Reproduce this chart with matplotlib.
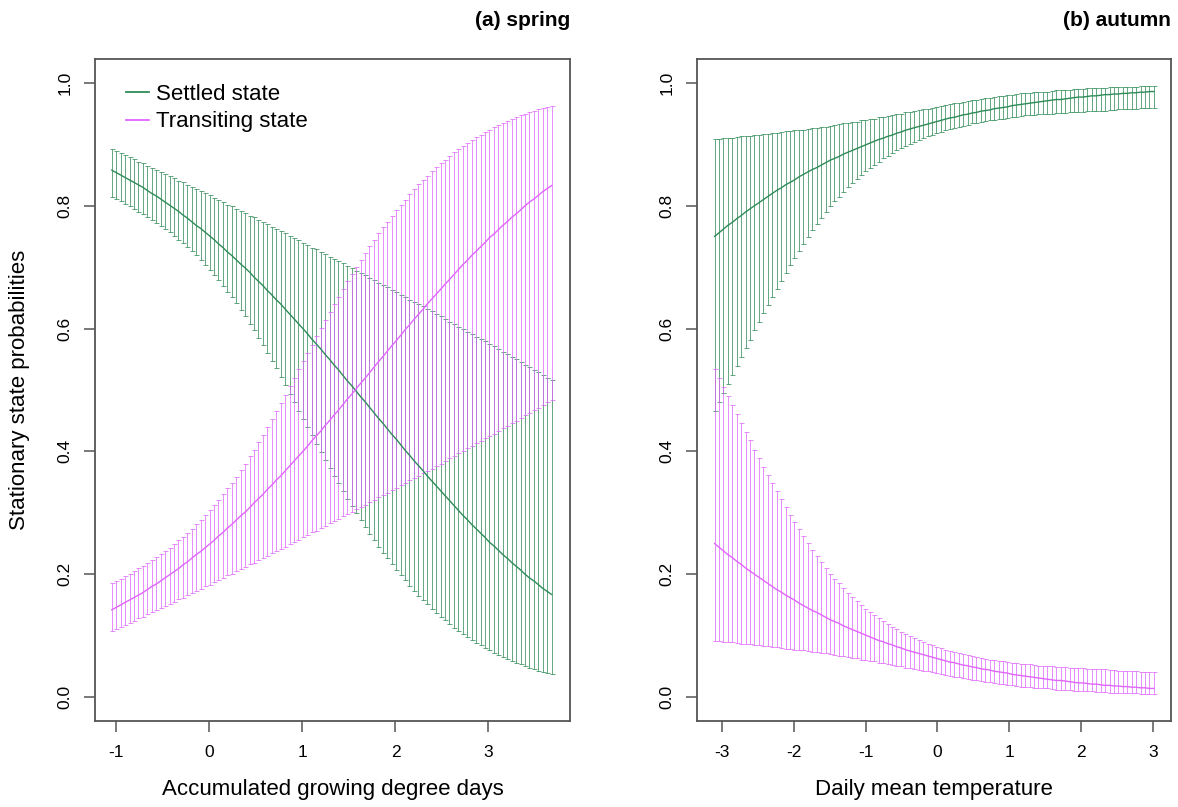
import numpy as np
import matplotlib
matplotlib.use('Agg')
import matplotlib.pyplot as plt
from matplotlib.lines import Line2D

plt.rcParams['font.family'] = ['Liberation Sans', 'DejaVu Sans']
plt.rcParams['axes.unicode_minus'] = False

# ---- (a) spring : covariate grid and stationary state probabilities ----
spring_x = [-1.050, -1.002, -0.954, -0.907, -0.859, -0.811, -0.763, -0.716, -0.668, -0.620,
            -0.572, -0.524, -0.477, -0.429, -0.381, -0.333, -0.286, -0.238, -0.190, -0.142,
            -0.094, -0.047, 0.001, 0.049, 0.097, 0.145, 0.192, 0.240, 0.288, 0.336,
            0.383, 0.431, 0.479, 0.527, 0.575, 0.622, 0.670, 0.718, 0.766, 0.813,
            0.861, 0.909, 0.957, 1.005, 1.052, 1.100, 1.148, 1.196, 1.243, 1.291,
            1.339, 1.387, 1.434, 1.482, 1.530, 1.578, 1.626, 1.673, 1.721, 1.769,
            1.817, 1.864, 1.912, 1.960, 2.008, 2.056, 2.103, 2.151, 2.199, 2.247,
            2.294, 2.342, 2.390, 2.438, 2.486, 2.533, 2.581, 2.629, 2.677, 2.724,
            2.772, 2.820, 2.868, 2.915, 2.963, 3.011, 3.059, 3.107, 3.154, 3.202,
            3.250, 3.298, 3.345, 3.393, 3.441, 3.489, 3.537, 3.584, 3.632, 3.680]

spring_settled = [0.858, 0.854, 0.850, 0.846, 0.842, 0.838, 0.834, 0.830, 0.825, 0.820,
                  0.816, 0.811, 0.806, 0.801, 0.796, 0.791, 0.785, 0.780, 0.774, 0.768,
                  0.763, 0.757, 0.751, 0.745, 0.738, 0.732, 0.725, 0.719, 0.712, 0.705,
                  0.699, 0.692, 0.684, 0.677, 0.670, 0.662, 0.655, 0.647, 0.640, 0.632,
                  0.624, 0.616, 0.608, 0.600, 0.592, 0.583, 0.575, 0.567, 0.558, 0.550,
                  0.541, 0.533, 0.524, 0.515, 0.507, 0.498, 0.489, 0.481, 0.472, 0.463,
                  0.454, 0.446, 0.437, 0.428, 0.420, 0.411, 0.402, 0.394, 0.385, 0.377,
                  0.369, 0.360, 0.352, 0.344, 0.336, 0.328, 0.320, 0.312, 0.304, 0.296,
                  0.289, 0.281, 0.274, 0.267, 0.260, 0.252, 0.246, 0.239, 0.232, 0.226,
                  0.219, 0.213, 0.207, 0.200, 0.194, 0.189, 0.183, 0.177, 0.172, 0.167]
spring_settled_lo = [0.815, 0.811, 0.807, 0.803, 0.799, 0.794, 0.790, 0.786, 0.781, 0.777,
                     0.772, 0.767, 0.762, 0.757, 0.751, 0.745, 0.739, 0.733, 0.726, 0.719,
                     0.711, 0.704, 0.696, 0.687, 0.679, 0.670, 0.660, 0.651, 0.641, 0.630,
                     0.620, 0.608, 0.597, 0.585, 0.573, 0.561, 0.548, 0.535, 0.521, 0.508,
                     0.494, 0.480, 0.466, 0.453, 0.439, 0.426, 0.412, 0.399, 0.386, 0.373,
                     0.360, 0.348, 0.335, 0.323, 0.311, 0.300, 0.288, 0.277, 0.266, 0.256,
                     0.245, 0.235, 0.226, 0.216, 0.207, 0.198, 0.190, 0.181, 0.173, 0.165,
                     0.158, 0.151, 0.144, 0.137, 0.131, 0.125, 0.119, 0.113, 0.108, 0.103,
                     0.098, 0.093, 0.088, 0.084, 0.080, 0.076, 0.072, 0.069, 0.065, 0.062,
                     0.059, 0.056, 0.053, 0.050, 0.048, 0.045, 0.043, 0.041, 0.039, 0.037]
spring_settled_hi = [0.892, 0.889, 0.886, 0.882, 0.879, 0.876, 0.872, 0.869, 0.865, 0.862,
                     0.859, 0.855, 0.852, 0.848, 0.845, 0.841, 0.838, 0.834, 0.831, 0.827,
                     0.824, 0.820, 0.817, 0.813, 0.809, 0.806, 0.802, 0.799, 0.795, 0.791,
                     0.788, 0.784, 0.781, 0.777, 0.773, 0.770, 0.766, 0.762, 0.759, 0.755,
                     0.751, 0.747, 0.744, 0.740, 0.736, 0.732, 0.729, 0.725, 0.721, 0.717,
                     0.714, 0.710, 0.706, 0.702, 0.698, 0.694, 0.691, 0.687, 0.683, 0.679,
                     0.675, 0.671, 0.667, 0.663, 0.659, 0.655, 0.651, 0.647, 0.644, 0.640,
                     0.636, 0.632, 0.628, 0.624, 0.620, 0.616, 0.611, 0.607, 0.603, 0.599,
                     0.595, 0.591, 0.587, 0.583, 0.579, 0.575, 0.571, 0.566, 0.562, 0.558,
                     0.554, 0.550, 0.546, 0.541, 0.537, 0.533, 0.529, 0.525, 0.520, 0.516]

spring_transit = [0.142, 0.146, 0.150, 0.154, 0.158, 0.162, 0.166, 0.170, 0.175, 0.180,
                  0.184, 0.189, 0.194, 0.199, 0.204, 0.209, 0.215, 0.220, 0.226, 0.232,
                  0.237, 0.243, 0.249, 0.255, 0.262, 0.268, 0.275, 0.281, 0.288, 0.295,
                  0.301, 0.308, 0.316, 0.323, 0.330, 0.338, 0.345, 0.353, 0.360, 0.368,
                  0.376, 0.384, 0.392, 0.400, 0.408, 0.417, 0.425, 0.433, 0.442, 0.450,
                  0.459, 0.467, 0.476, 0.485, 0.493, 0.502, 0.511, 0.519, 0.528, 0.537,
                  0.546, 0.554, 0.563, 0.572, 0.580, 0.589, 0.598, 0.606, 0.615, 0.623,
                  0.631, 0.640, 0.648, 0.656, 0.664, 0.672, 0.680, 0.688, 0.696, 0.704,
                  0.711, 0.719, 0.726, 0.733, 0.740, 0.748, 0.754, 0.761, 0.768, 0.774,
                  0.781, 0.787, 0.793, 0.800, 0.806, 0.811, 0.817, 0.823, 0.828, 0.833]
spring_transit_lo = [0.108, 0.111, 0.114, 0.118, 0.121, 0.124, 0.128, 0.131, 0.135, 0.138,
                     0.141, 0.145, 0.148, 0.152, 0.155, 0.159, 0.162, 0.166, 0.169, 0.173,
                     0.176, 0.180, 0.183, 0.187, 0.191, 0.194, 0.198, 0.201, 0.205, 0.209,
                     0.212, 0.216, 0.219, 0.223, 0.227, 0.230, 0.234, 0.238, 0.241, 0.245,
                     0.249, 0.253, 0.256, 0.260, 0.264, 0.268, 0.271, 0.275, 0.279, 0.283,
                     0.286, 0.290, 0.294, 0.298, 0.302, 0.306, 0.309, 0.313, 0.317, 0.321,
                     0.325, 0.329, 0.333, 0.337, 0.341, 0.345, 0.349, 0.353, 0.356, 0.360,
                     0.364, 0.368, 0.372, 0.376, 0.380, 0.384, 0.389, 0.393, 0.397, 0.401,
                     0.405, 0.409, 0.413, 0.417, 0.421, 0.425, 0.429, 0.434, 0.438, 0.442,
                     0.446, 0.450, 0.454, 0.459, 0.463, 0.467, 0.471, 0.475, 0.480, 0.484]
spring_transit_hi = [0.185, 0.189, 0.193, 0.197, 0.201, 0.206, 0.210, 0.214, 0.219, 0.223,
                     0.228, 0.233, 0.238, 0.243, 0.249, 0.255, 0.261, 0.267, 0.274, 0.281,
                     0.289, 0.296, 0.304, 0.313, 0.321, 0.330, 0.340, 0.349, 0.359, 0.370,
                     0.380, 0.392, 0.403, 0.415, 0.427, 0.439, 0.452, 0.465, 0.479, 0.492,
                     0.506, 0.520, 0.534, 0.547, 0.561, 0.574, 0.588, 0.601, 0.614, 0.627,
                     0.640, 0.652, 0.665, 0.677, 0.689, 0.700, 0.712, 0.723, 0.734, 0.744,
                     0.755, 0.765, 0.774, 0.784, 0.793, 0.802, 0.810, 0.819, 0.827, 0.835,
                     0.842, 0.849, 0.856, 0.863, 0.869, 0.875, 0.881, 0.887, 0.892, 0.897,
                     0.902, 0.907, 0.912, 0.916, 0.920, 0.924, 0.928, 0.931, 0.935, 0.938,
                     0.941, 0.944, 0.947, 0.950, 0.952, 0.955, 0.957, 0.959, 0.961, 0.963]

# ---- (b) autumn ----
autumn_x = [-3.100, -3.038, -2.977, -2.915, -2.853, -2.791, -2.730, -2.668, -2.606, -2.545,
            -2.483, -2.421, -2.359, -2.298, -2.236, -2.174, -2.113, -2.051, -1.989, -1.927,
            -1.866, -1.804, -1.742, -1.681, -1.619, -1.557, -1.495, -1.434, -1.372, -1.310,
            -1.249, -1.187, -1.125, -1.063, -1.002, -0.940, -0.878, -0.816, -0.755, -0.693,
            -0.631, -0.570, -0.508, -0.446, -0.384, -0.323, -0.261, -0.199, -0.138, -0.076,
            -0.014, 0.048, 0.109, 0.171, 0.233, 0.294, 0.356, 0.418, 0.480, 0.541,
            0.603, 0.665, 0.726, 0.788, 0.850, 0.912, 0.973, 1.035, 1.097, 1.158,
            1.220, 1.282, 1.344, 1.405, 1.467, 1.529, 1.590, 1.652, 1.714, 1.776,
            1.837, 1.899, 1.961, 2.023, 2.084, 2.146, 2.208, 2.269, 2.331, 2.393,
            2.455, 2.516, 2.578, 2.640, 2.701, 2.763, 2.825, 2.887, 2.948, 3.010]

autumn_settled = [0.750, 0.756, 0.762, 0.768, 0.773, 0.779, 0.784, 0.790, 0.795, 0.800,
                  0.805, 0.810, 0.815, 0.820, 0.825, 0.829, 0.834, 0.838, 0.842, 0.847,
                  0.851, 0.855, 0.859, 0.862, 0.866, 0.870, 0.874, 0.877, 0.880, 0.884,
                  0.887, 0.890, 0.893, 0.896, 0.899, 0.902, 0.905, 0.908, 0.910, 0.913,
                  0.915, 0.918, 0.920, 0.923, 0.925, 0.927, 0.929, 0.931, 0.933, 0.935,
                  0.937, 0.939, 0.941, 0.943, 0.944, 0.946, 0.948, 0.949, 0.951, 0.952,
                  0.954, 0.955, 0.956, 0.958, 0.959, 0.960, 0.961, 0.963, 0.964, 0.965,
                  0.966, 0.967, 0.968, 0.969, 0.970, 0.971, 0.972, 0.973, 0.973, 0.974,
                  0.975, 0.976, 0.977, 0.977, 0.978, 0.979, 0.979, 0.980, 0.981, 0.981,
                  0.982, 0.982, 0.983, 0.983, 0.984, 0.984, 0.985, 0.985, 0.986, 0.986]
autumn_settled_lo = [0.466, 0.481, 0.495, 0.510, 0.525, 0.539, 0.554, 0.568, 0.582, 0.597,
                     0.611, 0.625, 0.638, 0.652, 0.665, 0.678, 0.690, 0.703, 0.715, 0.727,
                     0.738, 0.749, 0.760, 0.770, 0.780, 0.790, 0.799, 0.807, 0.815, 0.823,
                     0.830, 0.837, 0.844, 0.850, 0.856, 0.861, 0.867, 0.872, 0.877, 0.881,
                     0.886, 0.890, 0.894, 0.897, 0.901, 0.904, 0.907, 0.910, 0.913, 0.915,
                     0.918, 0.920, 0.923, 0.925, 0.927, 0.929, 0.930, 0.932, 0.934, 0.935,
                     0.936, 0.938, 0.939, 0.940, 0.941, 0.942, 0.943, 0.944, 0.945, 0.946,
                     0.947, 0.947, 0.948, 0.949, 0.949, 0.950, 0.950, 0.951, 0.951, 0.951,
                     0.952, 0.952, 0.953, 0.953, 0.954, 0.954, 0.955, 0.955, 0.955, 0.956,
                     0.956, 0.957, 0.957, 0.957, 0.958, 0.958, 0.959, 0.959, 0.959, 0.960]
autumn_settled_hi = [0.908, 0.909, 0.910, 0.910, 0.911, 0.912, 0.913, 0.913, 0.914, 0.915,
                     0.916, 0.917, 0.917, 0.918, 0.919, 0.920, 0.921, 0.922, 0.923, 0.924,
                     0.924, 0.925, 0.926, 0.927, 0.928, 0.929, 0.930, 0.932, 0.933, 0.934,
                     0.935, 0.936, 0.937, 0.939, 0.940, 0.941, 0.942, 0.944, 0.945, 0.946,
                     0.948, 0.949, 0.950, 0.952, 0.953, 0.954, 0.956, 0.957, 0.958, 0.960,
                     0.961, 0.963, 0.964, 0.965, 0.967, 0.968, 0.969, 0.970, 0.972, 0.973,
                     0.974, 0.975, 0.976, 0.977, 0.978, 0.979, 0.980, 0.981, 0.982, 0.983,
                     0.983, 0.984, 0.985, 0.985, 0.986, 0.986, 0.987, 0.988, 0.988, 0.989,
                     0.989, 0.990, 0.990, 0.990, 0.991, 0.991, 0.992, 0.992, 0.992, 0.993,
                     0.993, 0.993, 0.994, 0.994, 0.994, 0.994, 0.995, 0.995, 0.995, 0.995]

autumn_transit = [0.250, 0.244, 0.238, 0.232, 0.227, 0.221, 0.216, 0.210, 0.205, 0.200,
                  0.195, 0.190, 0.185, 0.180, 0.175, 0.171, 0.166, 0.162, 0.158, 0.153,
                  0.149, 0.145, 0.141, 0.138, 0.134, 0.130, 0.126, 0.123, 0.120, 0.116,
                  0.113, 0.110, 0.107, 0.104, 0.101, 0.098, 0.095, 0.092, 0.090, 0.087,
                  0.085, 0.082, 0.080, 0.077, 0.075, 0.073, 0.071, 0.069, 0.067, 0.065,
                  0.063, 0.061, 0.059, 0.057, 0.056, 0.054, 0.052, 0.051, 0.049, 0.048,
                  0.046, 0.045, 0.044, 0.042, 0.041, 0.040, 0.039, 0.037, 0.036, 0.035,
                  0.034, 0.033, 0.032, 0.031, 0.030, 0.029, 0.028, 0.027, 0.027, 0.026,
                  0.025, 0.024, 0.023, 0.023, 0.022, 0.021, 0.021, 0.020, 0.019, 0.019,
                  0.018, 0.018, 0.017, 0.017, 0.016, 0.016, 0.015, 0.015, 0.014, 0.014]
autumn_transit_lo = [0.092, 0.091, 0.090, 0.090, 0.089, 0.088, 0.087, 0.087, 0.086, 0.085,
                     0.084, 0.083, 0.083, 0.082, 0.081, 0.080, 0.079, 0.078, 0.077, 0.076,
                     0.076, 0.075, 0.074, 0.073, 0.072, 0.071, 0.070, 0.068, 0.067, 0.066,
                     0.065, 0.064, 0.063, 0.061, 0.060, 0.059, 0.058, 0.056, 0.055, 0.054,
                     0.052, 0.051, 0.050, 0.048, 0.047, 0.046, 0.044, 0.043, 0.042, 0.040,
                     0.039, 0.037, 0.036, 0.035, 0.033, 0.032, 0.031, 0.030, 0.028, 0.027,
                     0.026, 0.025, 0.024, 0.023, 0.022, 0.021, 0.020, 0.019, 0.018, 0.017,
                     0.017, 0.016, 0.015, 0.015, 0.014, 0.014, 0.013, 0.012, 0.012, 0.011,
                     0.011, 0.010, 0.010, 0.010, 0.009, 0.009, 0.008, 0.008, 0.008, 0.007,
                     0.007, 0.007, 0.006, 0.006, 0.006, 0.006, 0.005, 0.005, 0.005, 0.005]
autumn_transit_hi = [0.534, 0.519, 0.505, 0.490, 0.475, 0.461, 0.446, 0.432, 0.418, 0.403,
                     0.389, 0.375, 0.362, 0.348, 0.335, 0.322, 0.310, 0.297, 0.285, 0.273,
                     0.262, 0.251, 0.240, 0.230, 0.220, 0.210, 0.201, 0.193, 0.185, 0.177,
                     0.170, 0.163, 0.156, 0.150, 0.144, 0.139, 0.133, 0.128, 0.123, 0.119,
                     0.114, 0.110, 0.106, 0.103, 0.099, 0.096, 0.093, 0.090, 0.087, 0.085,
                     0.082, 0.080, 0.077, 0.075, 0.073, 0.071, 0.070, 0.068, 0.066, 0.065,
                     0.064, 0.062, 0.061, 0.060, 0.059, 0.058, 0.057, 0.056, 0.055, 0.054,
                     0.053, 0.053, 0.052, 0.051, 0.051, 0.050, 0.050, 0.049, 0.049, 0.049,
                     0.048, 0.048, 0.047, 0.047, 0.046, 0.046, 0.045, 0.045, 0.045, 0.044,
                     0.044, 0.043, 0.043, 0.043, 0.042, 0.042, 0.041, 0.041, 0.041, 0.040]

col_settled = '#2E8B57'
col_transit = '#E066FF'
frame_col = '#555555'


def draw_state(ax, x, mean, lo, hi, col):
    x = np.asarray(x)
    mean = np.asarray(mean)
    lo = np.asarray(lo)
    hi = np.asarray(hi)
    ax.errorbar(x, mean, yerr=[mean - lo, hi - mean], fmt='none', ecolor=col,
                elinewidth=0.7, capsize=1.8, capthick=0.7, alpha=0.75, zorder=2)


def style_axes(ax, xticks, xlim, xlabel):
    ax.set_xlim(xlim)
    ax.set_ylim(-0.039, 1.039)
    ax.set_xticks(xticks)
    ax.set_xticklabels([str(t) for t in xticks])
    ax.set_yticks([0.0, 0.2, 0.4, 0.6, 0.8, 1.0])
    ax.set_yticklabels(['0.0', '0.2', '0.4', '0.6', '0.8', '1.0'])
    ax.tick_params(axis='both', direction='out', length=8, width=1.1,
                   color=frame_col, labelsize=12.5, pad=9)
    ax.tick_params(axis='y', labelrotation=90, pad=8)
    for lab in ax.get_yticklabels():
        lab.set_va('center')
    for sp in ax.spines.values():
        sp.set_color(frame_col)
        sp.set_linewidth(1.3)
    ax.set_xlabel(xlabel, fontsize=16, labelpad=14)


fig = plt.figure(figsize=(11.78, 8.07), dpi=100)
ax1 = fig.add_axes([0.0806, 0.1066, 0.4032, 0.8203])
ax2 = fig.add_axes([0.5917, 0.1066, 0.4024, 0.8203])

# spring panel
draw_state(ax1, spring_x, spring_settled, spring_settled_lo, spring_settled_hi, col_settled)
draw_state(ax1, spring_x, spring_transit, spring_transit_lo, spring_transit_hi, col_transit)
ax1.plot(spring_x, spring_settled, color=col_settled, lw=1.0, zorder=3)
ax1.plot(spring_x, spring_transit, color=col_transit, lw=1.0, zorder=3)
style_axes(ax1, [-1, 0, 1, 2, 3], (-1.231, 3.876), 'Accumulated growing degree days')
ax1.set_ylabel('Stationary state probabilities', fontsize=16, labelpad=20)
ax1.set_title('(a) spring', loc='right', fontsize=15, fontweight='bold', pad=24)

handles = [Line2D([0], [0], color=col_settled, lw=1.3),
           Line2D([0], [0], color=col_transit, lw=1.3)]
ax1.legend(handles, ['Settled state', 'Transiting state'], loc='upper left',
           bbox_to_anchor=(0.066, 0.962), frameon=False, fontsize=16,
           handlelength=1.0, handletextpad=0.35, labelspacing=0.28,
           borderpad=0, borderaxespad=0)

# autumn panel
draw_state(ax2, autumn_x, autumn_settled, autumn_settled_lo, autumn_settled_hi, col_settled)
draw_state(ax2, autumn_x, autumn_transit, autumn_transit_lo, autumn_transit_hi, col_transit)
ax2.plot(autumn_x, autumn_settled, color=col_settled, lw=1.0, zorder=3)
ax2.plot(autumn_x, autumn_transit, color=col_transit, lw=1.0, zorder=3)
style_axes(ax2, [-3, -2, -1, 0, 1, 2, 3], (-3.344, 3.249), 'Daily mean temperature')
ax2.set_title('(b) autumn', loc='right', fontsize=15, fontweight='bold', pad=24)

fig.savefig('out.png', dpi=100)
